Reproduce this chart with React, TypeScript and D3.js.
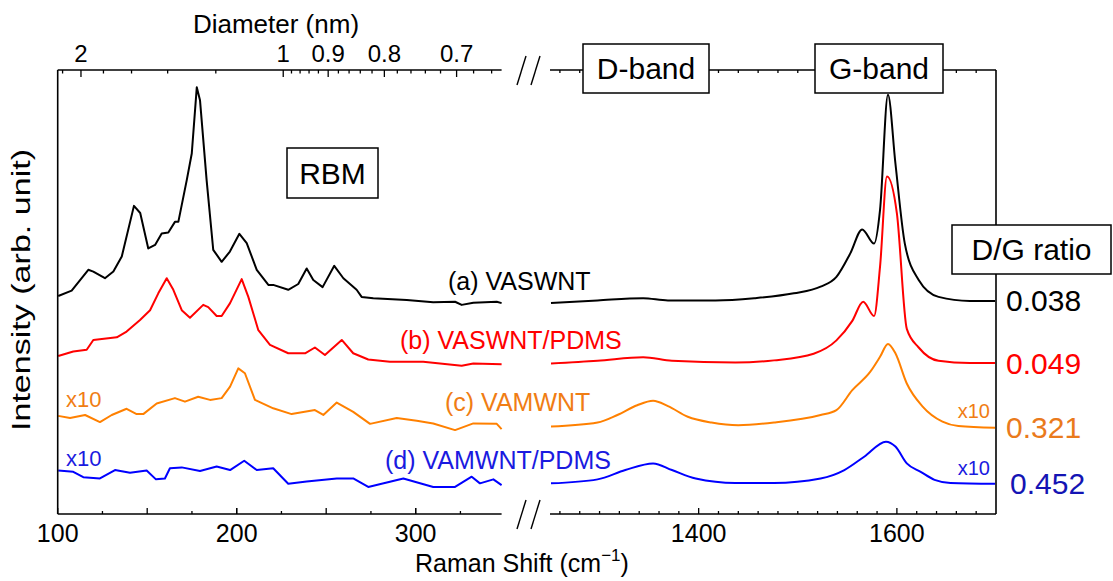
import React from 'react';
import * as d3 from 'd3';

// Raman spectra. [shift (cm-1), intensity (arb. unit, stacked)]
const vaswntRbm: [number, number][] = [
  [100.3, 49.1], [107.8, 50.3], [117.1, 55.0], [119.9, 54.6], [126.4, 53.1], [131.1, 54.6],
  [135.8, 58.0], [142.6, 69.4], [146.1, 67.8], [150.6, 59.8], [154.4, 60.6], [158.1, 63.2],
  [161.8, 63.4], [165.5, 65.8], [167.4, 65.8], [172.1, 75.2], [174.9, 81.2], [177.7, 96.1],
  [179.5, 93.2], [183.2, 75.2], [186.9, 59.5], [191.6, 56.8], [196.2, 59.1], [201.5, 63.1],
  [205.6, 61.0], [211.2, 55.0], [217.7, 51.6], [220.4, 51.6], [228.8, 50.5], [234.4, 51.8],
  [239.1, 55.3], [242.8, 52.7], [248.0, 51.1], [254.5, 55.9], [259.6, 53.1], [267.0, 50.5],
  [269.8, 48.9], [276.3, 48.6], [295.0, 48.2], [309.8, 47.7], [322.0, 47.8], [325.7, 47.1],
  [332.2, 47.6], [345.3, 47.8], [348.0, 47.5],
];
const vaswntPdmsRbm: [number, number][] = [
  [100.3, 35.6], [108.7, 36.6], [116.2, 37.0], [119.9, 39.2], [133.0, 39.8], [138.5, 41.1],
  [146.0, 43.7], [151.6, 45.9], [156.2, 49.7], [160.9, 53.1], [164.6, 50.5], [169.3, 45.9],
  [173.9, 44.2], [181.3, 47.1], [184.1, 46.6], [188.8, 44.6], [191.6, 44.6], [196.3, 47.5],
  [202.8, 52.9], [206.5, 48.9], [212.1, 41.4], [218.6, 38.1], [228.8, 36.2], [238.2, 36.2],
  [243.7, 37.5], [249.3, 35.8], [258.7, 39.2], [265.1, 36.2], [273.5, 34.8], [285.6, 34.3],
  [304.2, 34.3], [325.7, 33.4], [332.2, 33.9], [348.0, 33.7],
];
const vamwntRbm: [number, number][] = [
  [100.3, 22.1], [106.9, 21.6], [115.3, 22.3], [123.6, 20.7], [130.2, 22.3], [138.5, 23.7],
  [144.1, 22.5], [147.8, 22.5], [155.3, 24.9], [165.5, 26.1], [171.1, 25.3], [178.5, 26.4],
  [185.1, 25.7], [191.6, 26.1], [196.3, 28.7], [200.9, 32.8], [204.6, 31.7], [210.2, 25.7],
  [220.4, 23.8], [230.7, 22.5], [243.7, 23.4], [248.4, 22.3], [255.9, 25.1], [265.1, 23.0],
  [274.5, 20.3], [289.4, 21.6], [300.6, 21.0], [309.8, 20.4], [322.0, 18.9], [332.2, 20.4],
  [345.3, 20.3], [348.0, 19.1],
];
const vamwntPdmsRbm: [number, number][] = [
  [100.3, 9.8], [108.7, 9.5], [114.3, 8.3], [123.6, 8.0], [132.0, 9.9], [140.4, 9.3],
  [149.7, 9.8], [154.9, 7.8], [159.9, 8.0], [162.7, 10.3], [169.3, 10.5], [179.5, 9.7],
  [188.8, 10.7], [196.3, 9.9], [204.2, 12.0], [211.2, 9.9], [220.4, 10.3], [228.8, 6.8],
  [239.1, 7.3], [255.9, 8.0], [265.1, 8.0], [273.5, 6.1], [293.1, 8.0], [309.8, 6.1],
  [322.0, 6.1], [331.3, 8.4], [335.9, 6.9], [343.4, 7.8], [348.0, 6.5],
];

const vaswntDG: [number, number][] = [
  [1251, 47.5], [1298, 48.1], [1344, 48.6], [1369, 48.1], [1417, 48.1], [1456, 48.6],
  [1496, 49.7], [1523, 51.2], [1539, 53.4], [1553, 58.7], [1565, 64.1], [1577, 60.9],
  [1583, 68.5], [1591, 94.4], [1598.5, 79.0], [1608, 60.9], [1622, 52.7], [1642, 48.9],
  [1673.5, 48.0], [1699, 48.0],
];
const vaswntPdmsDG: [number, number][] = [
  [1251, 33.9], [1298, 34.5], [1344, 35.3], [1373, 34.5], [1437, 34.1], [1476, 34.6],
  [1516, 36.1], [1539, 39.1], [1555, 43.5], [1566, 47.8], [1577, 44.6], [1583, 55.7],
  [1590, 76.0], [1600, 67.7], [1610, 41.7], [1622, 37.5], [1642, 34.5], [1673.5, 34.0],
  [1699, 34.0],
];
const vamwntDG: [number, number][] = [
  [1251, 19.7], [1298, 20.6], [1318, 22.3], [1338, 24.5], [1354, 25.5], [1369, 24.3],
  [1389, 21.9], [1413, 20.6], [1440, 20.0], [1476, 20.6], [1523, 22.3], [1539, 23.4],
  [1555, 27.9], [1573, 32.0], [1583, 35.4], [1591, 38.3], [1598.5, 36.2], [1610, 29.4],
  [1626, 24.2], [1646, 20.8], [1662, 19.8], [1699, 19.4],
];
const vamwntPdmsDG: [number, number][] = [
  [1251, 6.9], [1298, 7.8], [1326, 9.9], [1354, 11.4], [1373, 9.9], [1397, 8.0],
  [1437, 7.0], [1476, 7.0], [1523, 8.0], [1547, 9.9], [1567, 12.9], [1589, 16.3],
  [1598.5, 15.2], [1610, 11.4], [1624, 9.5], [1638, 7.7], [1654, 7.0], [1699, 6.8],
];

const sampleNames = ['(a) VASWNT', '(b) VASWNT/PDMS', '(c) VAMWNT', '(d) VAMWNT/PDMS'];
const dgRatios = ['0.038', '0.049', '0.321', '0.452'];
const magnified = [false, false, true, true];

const shiftTicksLeft = [100, 200, 300];
const shiftTicksRight = [1400, 1600];
const diameterMajor = [2, 1, 0.9, 0.8, 0.7];
const diameterMinor = [2.2, 1.8, 1.6, 1.4, 1.2, 0.98, 0.96, 0.94, 0.92, 0.88, 0.86, 0.84, 0.82,
  0.78, 0.76, 0.74, 0.72, 0.68, 0.66];
const RBM_CONST = 226; // omega = 226 / d

const font = '"Liberation Sans", Arial, sans-serif';

export default function App() {
  const W = 1113, H = 581;
  const xL = d3.scaleLinear().domain([100, 348]).range([57.7, 501.6]);
  const xR = d3.scaleLinear().domain([1250, 1700]).range([550, 996]);
  const y = d3.scaleLinear().domain([0, 100]).range([514, 70]);
  const yTop = y(100), yBot = y(0);

  const lineL = d3.line<[number, number]>().x(d => xL(d[0])).y(d => y(d[1]));
  const lineR = d3.line<[number, number]>().x(d => xR(d[0])).y(d => y(d[1])).curve(d3.curveMonotoneX);

  const series = [
    { left: vaswntRbm, right: vaswntDG, line: '#000000', text: '#000000', ratioColor: '#000000' },
    { left: vaswntPdmsRbm, right: vaswntPdmsDG, line: '#ff0000', text: '#ff0000', ratioColor: '#ff0000' },
    { left: vamwntRbm, right: vamwntDG, line: '#ff8000', text: '#f07d14', ratioColor: '#ea7a1c' },
    { left: vamwntPdmsRbm, right: vamwntPdmsDG, line: '#0000ff', text: '#1a1ae0', ratioColor: '#1414b4' },
  ];
  // annotation layout
  const labelPos = [[448, 290], [400, 349], [445, 411], [385, 469]];
  const x10Left = [0, 0, 407, 466];
  const x10Right = [0, 0, 418, 475];

  const leftMinor = d3.range(125, 348, 25);
  const rightMinor = d3.range(1260, 1700, 20);

  const dx = (d: number) => xL(RBM_CONST / d);

  const slash = (cx: number, cy: number) => (
    <g stroke="#000" strokeWidth={1.4}>
      <line x1={cx - 8} y1={cy + 15} x2={cx + 1} y2={cy - 14} />
      <line x1={cx + 6} y1={cy + 15} x2={cx + 15} y2={cy - 14} />
    </g>
  );

  const box = (x0: number, x1: number, y0: number, y1: number, label: string) => (
    <g>
      <rect x={x0} y={y0} width={x1 - x0} height={y1 - y0} fill="#fff" stroke="#000" strokeWidth={1.5} />
      <text x={(x0 + x1) / 2} y={(y0 + y1) / 2 + 10.5} textAnchor="middle" fontSize={30}>{label}</text>
    </g>
  );

  return (
    <svg width={W} height={H} style={{ position: 'absolute', left: 0, top: 0, background: '#fff' }}
      fontFamily={font}>
      {/* spectra */}
      {series.map((s, i) => (
        <g key={i} fill="none" stroke={s.line} strokeWidth={2} strokeLinejoin="round">
          <path d={lineL(s.left) ?? ''} />
          <path d={lineR(s.right) ?? ''} />
        </g>
      ))}

      {/* frame */}
      <g stroke="#000" strokeWidth={1.6} fill="none">
        <line x1={xL(100)} y1={yTop} x2={xL(100)} y2={yBot} />
        <line x1={xR(1700)} y1={yTop} x2={xR(1700)} y2={yBot} />
        <line x1={xL(100)} y1={yBot} x2={xL(348)} y2={yBot} />
        <line x1={xR(1250)} y1={yBot} x2={xR(1700)} y2={yBot} />
        <line x1={xL(100)} y1={yTop} x2={xL(348)} y2={yTop} />
        <line x1={xR(1250)} y1={yTop} x2={xR(1700)} y2={yTop} />
      </g>

      {/* ticks */}
      <g stroke="#000" strokeWidth={1.3}>
        {leftMinor.concat(shiftTicksLeft).map(v => (
          <line key={'bl' + v} x1={xL(v)} x2={xL(v)} y1={yBot} y2={yBot - (v % 50 === 0 ? 6 : 3)} />
        ))}
        {rightMinor.map(v => (
          <line key={'br' + v} x1={xR(v)} x2={xR(v)} y1={yBot} y2={yBot - (v % 200 === 0 ? 6 : 3)} />
        ))}
        {rightMinor.map(v => (
          <line key={'tr' + v} x1={xR(v)} x2={xR(v)} y1={yTop} y2={yTop + (v % 200 === 0 ? 6 : 3)} />
        ))}
        {diameterMajor.map(d => (
          <line key={'dM' + d} x1={dx(d)} x2={dx(d)} y1={yTop} y2={yTop + 7} />
        ))}
        {diameterMinor.map(d => (
          <line key={'dm' + d} x1={dx(d)} x2={dx(d)} y1={yTop} y2={yTop + 3.5} />
        ))}
      </g>

      {/* tick labels */}
      <g fontSize={25} textAnchor="middle" fill="#000">
        {shiftTicksLeft.map(v => <text key={'l' + v} x={xL(v)} y={yBot + 28}>{v}</text>)}
        {shiftTicksRight.map(v => <text key={'r' + v} x={xR(v)} y={yBot + 28}>{v}</text>)}
      </g>
      <g fontSize={24} textAnchor="middle" fill="#000">
        {diameterMajor.map(d => <text key={'d' + d} x={dx(d)} y={yTop - 8}>{d}</text>)}
      </g>

      {/* breaks */}
      {slash(525, yBot)}
      {slash(525, yTop)}

      {/* axis titles */}
      <text x={276} y={33} fontSize={26} textAnchor="middle">Diameter (nm)</text>
      <text x={415} y={572} fontSize={25}>
        Raman Shift (cm<tspan fontSize={17} dy={-11}>{'\u22121'}</tspan><tspan dy={11}>)</tspan>
      </text>
      <text transform="translate(30,290) rotate(-90)" fontSize={26} textAnchor="middle"
        textLength={282} lengthAdjust="spacingAndGlyphs">Intensity (arb. unit)</text>

      {/* band boxes */}
      {box(287, 378, 148, 198, 'RBM')}
      {box(583, 709, 44, 93, 'D-band')}
      {box(815, 943, 44, 93, 'G-band')}
      {box(952, 1111, 225, 274, 'D/G ratio')}

      {/* sample labels, ratios, magnification */}
      {series.map((s, i) => {
        const last = s.right[s.right.length - 1];
        return (
          <g key={'lab' + i}>
            <text x={labelPos[i][0]} y={labelPos[i][1]} fontSize={25} fill={s.text}>{sampleNames[i]}</text>
            <text x={i === 3 ? 1010 : 1006} y={y(last[1]) + 10.5} fontSize={30} fill={s.ratioColor}>{dgRatios[i]}</text>
            {magnified[i] && (
              <>
                <text x={66} y={x10Left[i]} fontSize={22} fill={s.text}>x10</text>
                <text x={990} y={x10Right[i]} fontSize={20} textAnchor="end" fill={s.text}>x10</text>
              </>
            )}
          </g>
        );
      })}
    </svg>
  );
}
